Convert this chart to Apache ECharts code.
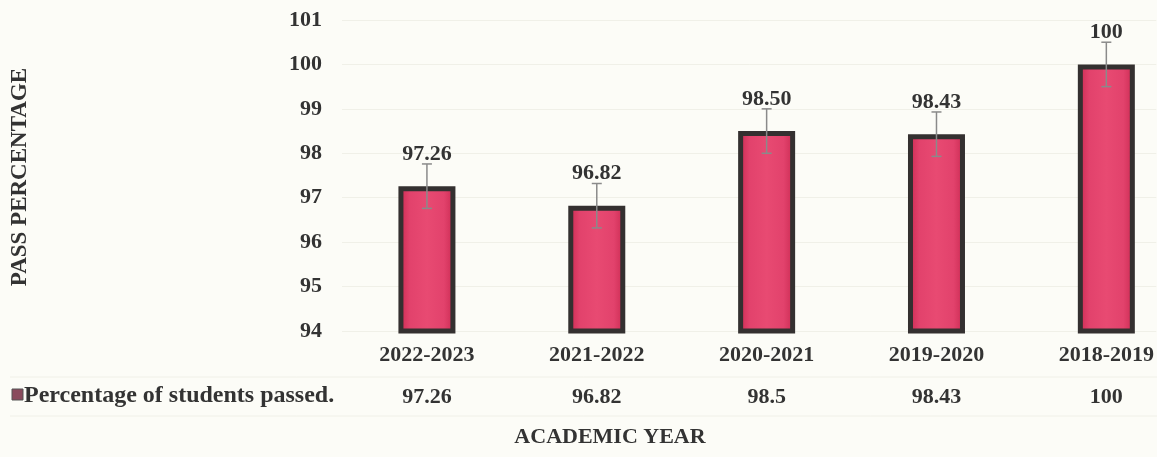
<!DOCTYPE html>
<html><head><meta charset="utf-8">
<script src="https://cdn.jsdelivr.net/npm/echarts@6/dist/echarts.min.js"></script>
<style>html,body{margin:0;padding:0;background:#fcfcf7}#c{width:1157px;height:457px}</style>
</head><body><div id="c"></div>
<script>
const categories = ['2022-2023','2021-2022','2020-2021','2019-2020','2018-2019'];
const values = [97.26, 96.82, 98.50, 98.43, 100];
const barLabels = ['97.26','96.82','98.50','98.43','100'];
const tableLabels = ['97.26','96.82','98.5','98.43','100'];
const errorAmount = 0.5;
const yTicks = [94,95,96,97,98,99,100,101];
const seriesName = 'Percentage of students passed.';

const font = '"Liberation Serif", "DejaVu Serif", serif';
const idx = categories.map((c, i) => i);
// plot area continues past the right edge of the picture (cropped): 170px per category
const xMin = -0.5, xMax = -0.5 + 815 / 170;
const chart = echarts.init(document.getElementById('c'));
const xBase = {
  type: 'value', min: xMin, max: xMax, position: 'bottom',
  axisLine: {show: false}, axisTick: {show: false}, splitLine: {show: false}
};
chart.setOption({
  backgroundColor: '#fcfcf7',
  animation: false,
  grid: {left: 342, right: 0, top: 20, bottom: 126},
  xAxis: [Object.assign({}, xBase, {
    axisLabel: {customValues: idx, color: '#333', fontFamily: font, fontWeight: 'bold', fontSize: 22, margin: 13,
      formatter: v => categories[Math.round(v)] || ''}
  }), Object.assign({}, xBase, {
    offset: 42,
    axisLabel: {customValues: idx, color: '#333', fontFamily: font, fontWeight: 'bold', fontSize: 22, margin: 13,
      formatter: v => tableLabels[Math.round(v)] || ''}
  })],
  yAxis: {
    type: 'value', min: 94, max: 101, interval: 1,
    axisLine: {show: false}, axisTick: {show: false},
    splitLine: {lineStyle: {color: '#f0f0e8'}},
    axisLabel: {color: '#333', fontFamily: font, fontWeight: 'bold', fontSize: 22, margin: 20,
      formatter: v => yTicks.includes(v) ? String(v) : ''}
  },
  graphic: [
    {type: 'text', x: 20, y: 177, rotation: Math.PI/2,
      style: {text: 'PASS PERCENTAGE', fill: '#333', font: 'bold 23px ' + font, textAlign: 'center', textVerticalAlign: 'middle'}},
    {type: 'text', x: 610, y: 437,
      style: {text: 'ACADEMIC YEAR', fill: '#333', font: 'bold 22px ' + font, textAlign: 'center', textVerticalAlign: 'middle'}},
    {type: 'rect', shape: {x: 12, y: 389, width: 11, height: 11},
      style: {fill: '#8a4b5d', stroke: '#555', lineWidth: 1}},
    {type: 'text', x: 24, y: 396,
      style: {text: seriesName, fill: '#333', font: 'bold 24px ' + font, textVerticalAlign: 'middle'}},
    {type: 'line', shape: {x1: 10, y1: 377, x2: 1157, y2: 377}, style: {stroke: '#f0f0e8', lineWidth: 1}},
    {type: 'line', shape: {x1: 10, y1: 416, x2: 1157, y2: 416}, style: {stroke: '#f0f0e8', lineWidth: 1}}
  ],
  series: [{
    name: seriesName, type: 'bar', data: values.map((v, i) => [i, v]), barWidth: 57,
    itemStyle: {
      color: {type: 'linear', x: 0, y: 0, x2: 1, y2: 0, colorStops: [
        {offset: 0, color: '#c8284f'}, {offset: 0.2, color: '#e2426c'},
        {offset: 0.5, color: '#e84a72'}, {offset: 0.8, color: '#e2426c'}, {offset: 1, color: '#c8284f'}]},
      borderColor: '#343030', borderWidth: 5
    },
    z: 2
  }, {
    type: 'custom', z: 3,
    data: values.map((v, i) => [i, v - errorAmount, v + errorAmount, v]),
    renderItem: function (params, api) {
      const x = api.coord([api.value(0), api.value(1)])[0];
      const lo = api.coord([api.value(0), api.value(1)])[1];
      const hi = api.coord([api.value(0), api.value(2)])[1];
      const st = {stroke: '#8a8a8a', lineWidth: 1.5};
      return {type: 'group', children: [
        {type: 'line', shape: {x1: x, y1: hi, x2: x, y2: lo}, style: st},
        {type: 'line', shape: {x1: x - 5, y1: hi, x2: x + 5, y2: hi}, style: st},
        {type: 'line', shape: {x1: x - 5, y1: lo, x2: x + 5, y2: lo}, style: st},
        {type: 'text', x: x, y: hi + 1, style: {text: barLabels[params.dataIndex], fill: '#333',
          font: 'bold 22px ' + font, textAlign: 'center', textVerticalAlign: 'bottom'}}
      ]};
    }
  }]
});
</script></body></html>
